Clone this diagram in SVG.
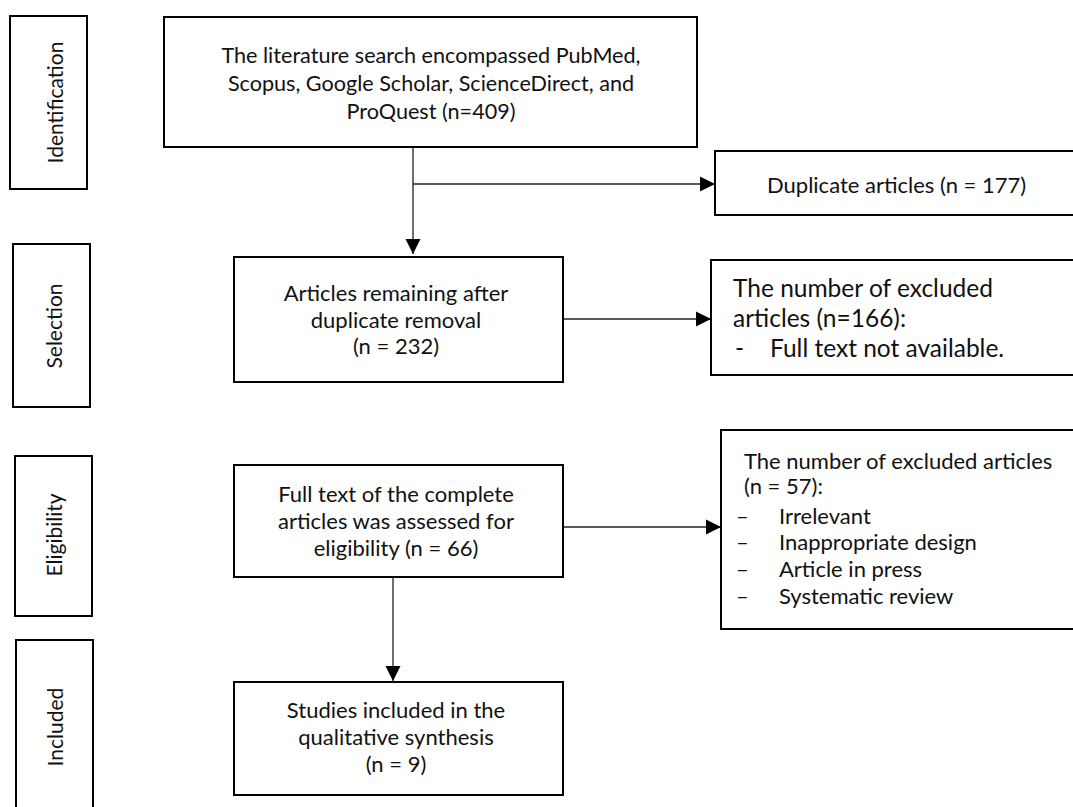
<svg xmlns="http://www.w3.org/2000/svg" width="1073" height="807" viewBox="0 0 1073 807">
<style>
.box{fill:#fff;stroke:#000;stroke-width:2}
.t{font-family:Lato,"Open Sans","DejaVu Sans",sans-serif;font-size:22px;fill:#111}
.c{text-anchor:middle}
.m{font-size:21.6px}
.side{font-family:Lato,"Open Sans","DejaVu Sans",sans-serif;font-size:21px;fill:#111;text-anchor:middle}
.big{font-size:24.5px}
.ln{stroke:#222;stroke-width:1.3;fill:none}
</style>
<defs>
<marker id="ah" markerUnits="userSpaceOnUse" markerWidth="16" markerHeight="16" refX="15" refY="8" orient="auto">
<path d="M0,0.5 L15,8 L0,15.5 Z" fill="#000"/>
</marker>
</defs>
<rect width="1073" height="807" fill="#fff"/>
<g id="connectors">
<line class="ln" x1="413" y1="147" x2="413" y2="254" marker-end="url(#ah)"/>
<line class="ln" x1="413" y1="184" x2="715" y2="184" marker-end="url(#ah)"/>
<line class="ln" x1="563" y1="319" x2="711" y2="319" marker-end="url(#ah)"/>
<line class="ln" x1="563" y1="527" x2="721" y2="527" marker-end="url(#ah)"/>
<line class="ln" x1="393" y1="577" x2="393" y2="681" marker-end="url(#ah)"/>
</g>
<g id="lbl-identification">
<rect class="box" x="10" y="16" width="77" height="173"/>
<text class="side" transform="translate(63,102.5) rotate(-90)">Identification</text>
</g>
<g id="lbl-selection">
<rect class="box" x="13" y="244" width="77" height="163"/>
<text class="side" transform="translate(62,326) rotate(-90)">Selection</text>
</g>
<g id="lbl-eligibility">
<rect class="box" x="15" y="456" width="77" height="160"/>
<text class="side" transform="translate(62,535) rotate(-90)">Eligibility</text>
</g>
<g id="lbl-included">
<rect class="box" x="16" y="640" width="77" height="190"/>
<text class="side" transform="translate(63,727) rotate(-90)">Included</text>
</g>
<g id="search">
<rect class="box" x="164" y="17" width="533" height="130"/>
<text class="t c m" x="431" y="63">The literature search encompassed PubMed,</text>
<text class="t c m" x="431" y="91">Scopus, Google Scholar, ScienceDirect, and</text>
<text class="t c m" x="431" y="119">ProQuest (n=409)</text>
</g>
<g id="duplicates">
<rect class="box" x="715" y="151" width="370" height="64"/>
<text class="t" x="767" y="193">Duplicate articles (n = 177)</text>
</g>
<g id="remaining">
<rect class="box" x="234" y="257" width="329" height="125"/>
<text class="t c" x="396" y="301">Articles remaining after</text>
<text class="t c" x="396" y="328">duplicate removal</text>
<text class="t c" x="396" y="354">(n = 232)</text>
</g>
<g id="excluded1">
<rect class="box" x="711" y="260" width="375" height="115"/>
<text class="t big" x="733" y="297">The number of excluded</text>
<text class="t big" x="733" y="327">articles (n=166):</text>
<text class="t big" x="735" y="357">-</text>
<text class="t big" x="770" y="357">Full text not available.</text>
</g>
<g id="fulltext">
<rect class="box" x="234" y="465" width="329" height="112"/>
<text class="t c" x="396" y="502">Full text of the complete</text>
<text class="t c" x="396" y="529">articles was assessed for</text>
<text class="t c" x="396" y="556">eligibility (n = 66)</text>
</g>
<g id="excluded2">
<rect class="box" x="721" y="430" width="365" height="199"/>
<text class="t" x="744" y="469">The number of excluded articles</text>
<text class="t" x="744" y="494">(n = 57):</text>
<text class="t" x="736" y="524">–</text><text class="t" x="779" y="524">Irrelevant</text>
<text class="t" x="736" y="550">–</text><text class="t" x="779" y="550">Inappropriate design</text>
<text class="t" x="736" y="577">–</text><text class="t" x="779" y="577">Article in press</text>
<text class="t" x="736" y="604">–</text><text class="t" x="779" y="604">Systematic review</text>
</g>
<g id="included">
<rect class="box" x="234" y="682" width="329" height="113"/>
<text class="t c" x="396" y="718">Studies included in the</text>
<text class="t c" x="396" y="745">qualitative synthesis</text>
<text class="t c" x="396" y="772">(n = 9)</text>
</g>
</svg>
